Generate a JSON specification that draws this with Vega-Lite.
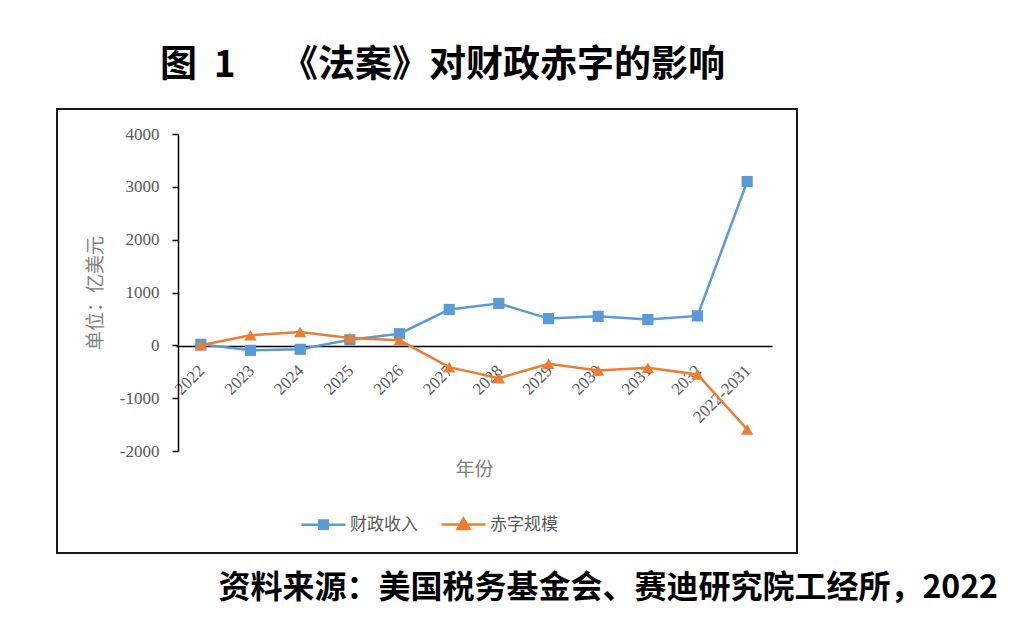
{
  "$schema": "https://vega.github.io/schema/vega-lite/v6.json",
  "padding": {"left": 56, "top": 47, "right": 8, "bottom": 10},
  "background": "white",
  "title": {"text": "图 \u00a01\u3000\u00a0《法案》对财政赤字的影响", "font": "Noto Sans CJK SC", "fontSize": 37, "fontWeight": "bold", "color": "#000000", "anchor": "middle", "offset": 23, "dx": -85},
  "datasets": {
    "d": [
      {"year": "2022", "series": "财政收入", "value": 20},
      {"year": "2023", "series": "财政收入", "value": -95},
      {"year": "2024", "series": "财政收入", "value": -75},
      {"year": "2025", "series": "财政收入", "value": 105},
      {"year": "2026", "series": "财政收入", "value": 220},
      {"year": "2027", "series": "财政收入", "value": 678},
      {"year": "2028", "series": "财政收入", "value": 792},
      {"year": "2029", "series": "财政收入", "value": 506},
      {"year": "2030", "series": "财政收入", "value": 549},
      {"year": "2031", "series": "财政收入", "value": 487},
      {"year": "2032", "series": "财政收入", "value": 557},
      {"year": "2022-2031", "series": "财政收入", "value": 3100},
      {"year": "2022", "series": "赤字规模", "value": 0},
      {"year": "2023", "series": "赤字规模", "value": 190},
      {"year": "2024", "series": "赤字规模", "value": 252},
      {"year": "2025", "series": "赤字规模", "value": 140},
      {"year": "2026", "series": "赤字规模", "value": 95},
      {"year": "2027", "series": "赤字规模", "value": -413},
      {"year": "2028", "series": "赤字规模", "value": -621},
      {"year": "2029", "series": "赤字规模", "value": -348},
      {"year": "2030", "series": "赤字规模", "value": -475},
      {"year": "2031", "series": "赤字规模", "value": -424},
      {"year": "2032", "series": "赤字规模", "value": -551},
      {"year": "2022-2031", "series": "赤字规模", "value": -1590}
    ]
  },
  "vconcat": [
    {
      "width": 740,
      "height": 444,
      "view": {"stroke": "#1a1a1a", "strokeWidth": 2},
      "title": {"text": "资料来源：美国税务基金会、赛迪研究院工经所，2022", "orient": "bottom", "anchor": "end", "dx": 201, "offset": 20, "font": "Noto Sans CJK SC", "fontSize": 32, "fontWeight": "bold", "color": "#000000"},
      "data": {"name": "d"},
      "encoding": {
        "x": {
          "field": "year", "type": "nominal",
          "sort": ["2022","2023","2024","2025","2026","2027","2028","2029","2030","2031","2032","2022-2031"],
          "scale": {"type": "point", "range": [119, 715], "padding": 0.5},
          "axis": {"title": "年份", "offset": -207, "labelAngle": -45, "ticks": false, "labelPadding": 16, "labelOffset": -5, "labelOverlap": false, "labelBound": false, "labelFont": "Liberation Serif", "labelFontSize": 17, "labelColor": "#595959", "domainColor": "#000000", "domainWidth": 1.5, "titleFont": "Noto Sans CJK SC", "titleFontSize": 19, "titleFontWeight": "normal", "titleColor": "#808080", "titlePadding": 35, "grid": false}
        },
        "y": {
          "field": "value", "type": "quantitative",
          "scale": {"domain": [-2000, 4000], "range": [342, 25], "nice": false, "zero": false},
          "axis": {"title": "单位：亿美元", "offset": -121, "values": [-2000, -1000, 0, 1000, 2000, 3000, 4000], "labelExpr": "'' + datum.value", "labelFont": "Liberation Serif", "labelFontSize": 17, "labelColor": "#595959", "labelPadding": 13, "tickSize": 6, "tickColor": "#000000", "tickWidth": 1.5, "domainColor": "#000000", "domainWidth": 1.5, "titleFont": "Noto Sans CJK SC", "titleFontSize": 19, "titleFontWeight": "normal", "titleColor": "#808080", "titlePadding": 14, "grid": false}
        }
      },
      "layer": [
        {
          "transform": [{"filter": "datum.series === '财政收入'"}],
          "mark": {"type": "line", "strokeWidth": 2.5, "point": {"shape": "square", "size": 125, "filled": true, "opacity": 1}},
          "encoding": {
            "color": {"field": "series", "type": "nominal", "scale": {"range": ["#5B9BD5", "#ED7D31"]}, "legend": null}
          }
        },
        {
          "transform": [{"filter": "datum.series === '赤字规模'"}],
          "mark": {"type": "line", "strokeWidth": 2.5, "point": {"shape": "triangle-up", "size": 150, "filled": true, "opacity": 1}},
          "encoding": {
            "color": {"field": "series", "type": "nominal", "scale": {"range": ["#5B9BD5", "#ED7D31"]}, "legend": null}
          }
        },
        {
          "transform": [{"filter": "false"}],
          "mark": {"type": "point", "filled": true, "opacity": 1, "strokeWidth": 2.5},
          "encoding": {
            "fill": {"field": "series", "type": "nominal", "scale": {"domain": ["财政收入", "赤字规模"], "range": ["#5B9BD5", "#ED7D31"]},
              "legend": {"orient": "none", "legendX": 255, "legendY": 404, "direction": "horizontal", "title": null, "padding": 0, "symbolSize": 400, "symbolStrokeWidth": 2.5, "labelOffset": 15, "columnPadding": 18, "labelFont": "Noto Sans CJK SC", "labelFontSize": 17, "labelColor": "#595959"}},
            "stroke": {"field": "series", "type": "nominal", "scale": {"domain": ["财政收入", "赤字规模"], "range": ["#5B9BD5", "#ED7D31"]},
              "legend": {"orient": "none", "legendX": 255, "legendY": 404, "direction": "horizontal", "title": null, "padding": 0, "symbolSize": 400, "symbolStrokeWidth": 2.5, "labelOffset": 15, "columnPadding": 18, "labelFont": "Noto Sans CJK SC", "labelFontSize": 17, "labelColor": "#595959"}},
            "shape": {"field": "series", "type": "nominal", "scale": {"domain": ["财政收入", "赤字规模"], "range": ["M-2.2,0H2.2M-0.42,-0.42H0.42V0.42H-0.42Z", "M-2.2,0H2.2M0,-0.6L0.6,0.45H-0.6Z"]},
              "legend": {"orient": "none", "legendX": 255, "legendY": 404, "direction": "horizontal", "title": null, "padding": 0, "symbolSize": 400, "symbolStrokeWidth": 2.5, "labelOffset": 15, "columnPadding": 18, "labelFont": "Noto Sans CJK SC", "labelFontSize": 17, "labelColor": "#595959"}}
          }
        }
      ]
    }
  ],
  "config": {
    "font": "Noto Sans CJK SC",
    "axis": {"grid": false}
  }
}
